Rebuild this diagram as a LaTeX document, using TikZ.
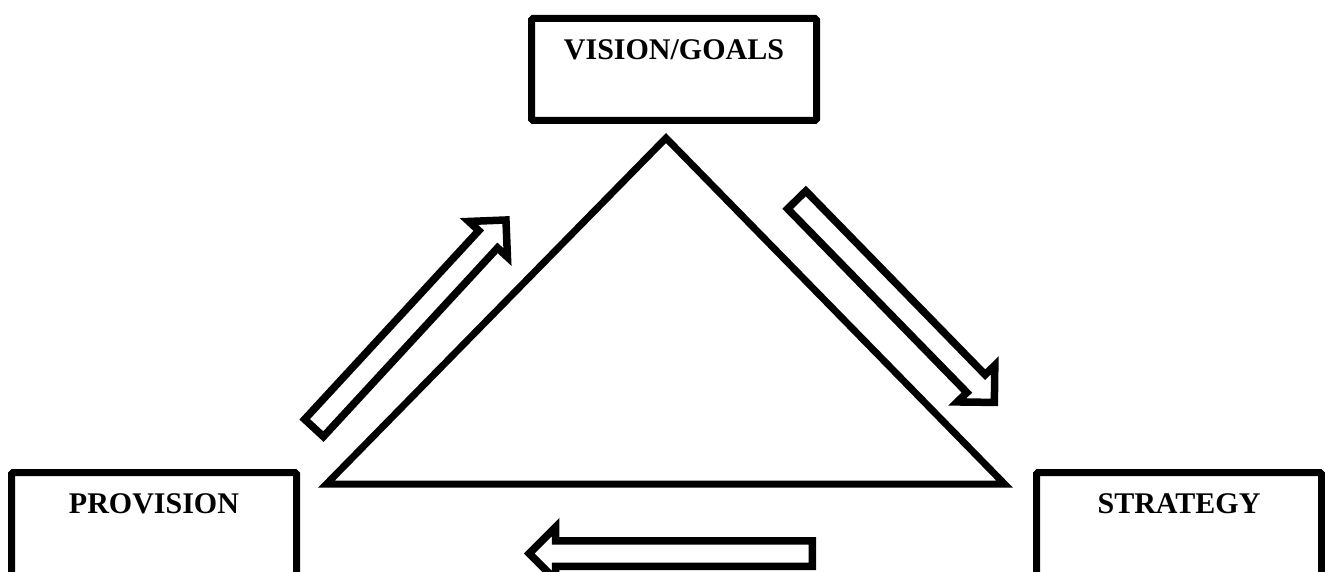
\documentclass[tikz,border=0pt]{standalone}
\usepackage{fontspec}
\setmainfont{Liberation Serif}
\usetikzlibrary{shapes.arrows}
\begin{document}
\begin{tikzpicture}[x=1pt,y=-1pt,
  box/.style={draw=black, line width=7pt, rounded corners=1.5pt, minimum width=285pt, inner sep=0pt},
  lbl/.style={font=\fontsize{30}{36}\selectfont\bfseries, inner sep=0pt, anchor=base},
  blockarrow/.style={single arrow, draw=black, fill=white, line width=7.5pt, inner sep=9pt,
    minimum width=0pt, single arrow head extend=13.5pt, single arrow tip angle=90,
    minimum height=283pt, anchor=tail},
  triline/.style={draw=black, line width=7pt}
]
\useasboundingbox (0,0) rectangle (1325,572);
\clip (0,0) rectangle (1325,572);
\fill[white] (0,0) rectangle (1325,572);

% boxes
\node[box, minimum height=102pt] (vision) at (674,69.5) {};
\node[box, minimum height=128pt] (provision) at (154,536.5) {};
\node[box, minimum height=128pt] (strategy) at (1179,536.5) {};
\node[lbl] (tv) at (674,60) {VISION/GOALS};
\node[lbl] (tp) at (154,513) {PROVISION};
\node[lbl] (ts) at (1179,513) {STRATEGY};

% triangle
\coordinate (apex) at (666,138);
\coordinate (bl) at (326.5,484);
\coordinate (br) at (1004.5,484);
\draw[triline] (apex) -- (br) -- (bl) -- cycle;

% block arrows
\node[blockarrow, rotate=47.3] (a1) at (311.5,430.7) {};
\node[blockarrow, rotate=-45.7] (a2) at (794.1,197.2) {};
\node[blockarrow, rotate=180] (a3) at (816,553.5) {};
\end{tikzpicture}
\end{document}
